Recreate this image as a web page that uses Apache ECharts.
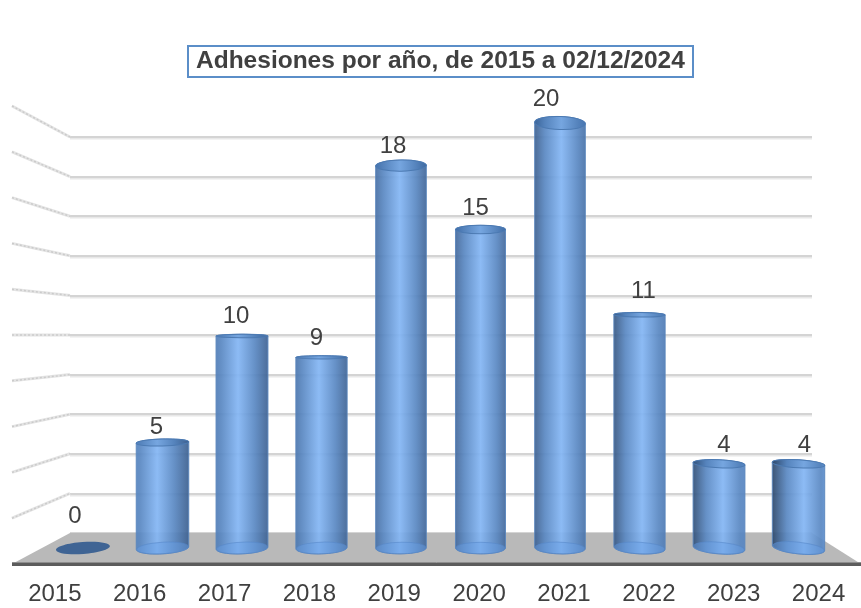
<!DOCTYPE html>
<html>
<head>
<meta charset="utf-8">
<style>html,body{margin:0;padding:0;background:#fff}#c{width:861px;height:608px}</style>
<script src="https://cdn.jsdelivr.net/npm/echarts@6/dist/echarts.min.js"></script>
</head>
<body>
<div id="c"></div>
<script>
const categories = ['2015','2016','2017','2018','2019','2020','2021','2022','2023','2024'];
const values = [0,5,10,9,18,15,20,11,4,4];
const wallLevels = [0,2,4,6,8,10,12,14,16,18,20];
const titleText = 'Adhesiones por año, de 2015 a 02/12/2024';

// layout only
const labelNudge = [[-8,-33],[-6,-15],[-6,-20],[-5,-19],[-8,-19],[-5,-21],[-14,-24],[4,-23],[5,-18],[6,-18]];
const textColor = '#404040';
const fontFamily = '"Liberation Sans", Arial, sans-serif';
const BACK = {left:70, width:742, top:137, height:396};
const FRONT = {left:12, width:58, top:106, height:458};
const BARS = {left:43.25, width:795, top:123, height:426};
const EYE = 350;

const chart = echarts.init(document.getElementById('c'), null, {renderer:'canvas'});

function hex(c){return [1,3,5].map(i=>parseInt(c.substr(i,2),16));}
function mix(a,b,t){const A=hex(a),B=hex(b);return 'rgb('+A.map((v,i)=>Math.round(v+(B[i]-v)*t)).join(',')+')';}
function barGradient(t, hi, mid, edge){
  const left = t>0 ? mix(edge,'#2c4668',t) : mix(edge,'#5584bf',-t);
  const right = t>0 ? mix(edge,'#5d8fcf',t) : mix(edge,'#3c5f8e',-t);
  const p = 0.5+0.1*t;
  return new echarts.graphic.LinearGradient(0,0,1,0,[
    {offset:0,color:left},{offset:Math.max(p-0.32,0.05),color:mid},
    {offset:p,color:hi},{offset:Math.min(p+0.32,0.95),color:mid},{offset:1,color:right}]);
}
function ry(y){return 1.5+0.022*Math.abs(y-EYE);}
function tilt(cx,y){return (cx-480)*(cx<480?0.006:0.011)*(Math.abs(y-EYE)/113)*Math.PI/180;}
function pt(c,w,h,a,t){
  const x=w*Math.cos(t), y=h*Math.sin(t);
  return [c[0]+x*Math.cos(a)-y*Math.sin(a), c[1]+x*Math.sin(a)+y*Math.cos(a)];
}
function ellipse(c,w,h,a,style,z2){
  return {type:'ellipse',x:c[0],y:c[1],rotation:-a,shape:{cx:0,cy:0,rx:w,ry:h},style:style,z2:z2};
}

function renderBar(params, api){
  const i = api.value(0), v = api.value(1);
  const top = api.coord([i,v]), axisBase = api.coord([i,0]);
  const base = [axisBase[0], axisBase[1]-1];
  const cx = base[0], n = 24;
  const t = (cx-480)/320;
  const w = 25+Math.abs(t)*1.3;
  const at = tilt(cx,top[1]), ab = tilt(cx,base[1]);
  const hb = ry(base[1]), ht = ry(top[1]);
  const nudge = labelNudge[params.dataIndex];
  const label = {type:'text',x:cx+nudge[0],y:top[1]+nudge[1],z2:10,
    style:{text:String(v),fill:textColor,font:'24px '+fontFamily,textAlign:'center',textVerticalAlign:'middle'}};
  if(v===0){
    return {type:'group',children:[
      ellipse([cx,base[1]],27,6,ab,{fill:'#3f6494'},2),label]};
  }
  const pts=[];
  for(let k=0;k<=n;k++) pts.push(pt(base,w,hb,ab,Math.PI-Math.PI*k/n));
  for(let k=0;k<=n;k++) pts.push(pt(top,w,ht,at,-Math.PI*k/n));
  return {type:'group',children:[
    {type:'polygon',shape:{points:pts},z2:3,
      style:{fill:barGradient(t,'#84b6f4','#5a88c2','#44689a'),stroke:'#5a86bd',lineWidth:1,opacity:0.93}},
    ellipse(base,w-0.5,hb,ab,{fill:'rgba(105,160,230,0.45)',stroke:'rgba(85,135,200,0.55)',lineWidth:1},4),
    ellipse(top,w,ht,at,{fill:barGradient(t,'#76a6e0','#5583bc','#3f6ca6'),stroke:'#4c7ab2',lineWidth:1},5),
    label]};
}

function backY(v){return chart.convertToPixel({gridIndex:0},[0,v])[1];}

function renderWall(params, api){
  const v = api.value(0);
  const f = api.coord([0,v]), by = backY(v);
  const pts=[[f[0],f[1]],[BACK.left,by]];
  if(v===0){
    return {type:'group',children:[
      {type:'polygon',shape:{points:[[BACK.left,by],[BACK.left+BACK.width,by],[861,f[1]],[f[0],f[1]]]},style:{fill:'#b9b9b9'},z2:1},
      {type:'line',shape:{x1:f[0],y1:f[1]-1.5,x2:861,y2:f[1]-1.5},style:{stroke:'#8e8e8e',lineWidth:1},z2:2},
      {type:'line',shape:{x1:f[0],y1:f[1]+0.5,x2:861,y2:f[1]+0.5},style:{stroke:'#5c5c5c',lineWidth:3},z2:2}
    ]};
  }
  return {type:'group',children:[
    {type:'polyline',shape:{points:pts},style:{stroke:'#e4e4e4',lineWidth:3,fill:null}},
    {type:'polyline',shape:{points:pts},style:{stroke:'#cbcbcb',lineWidth:1.5,lineDash:[2,2],fill:null},z2:2}
  ]};
}

chart.setOption({
  backgroundColor:'#fff',
  animation:false,
  title:{text:titleText,left:188,top:46,padding:[3,8,3,8],borderColor:'#5b8ec8',borderWidth:2,
    textStyle:{fontFamily:fontFamily,fontSize:24.5,fontWeight:'bold',color:textColor}},
  grid:[
    Object.assign({},BACK),
    Object.assign({},FRONT),
    Object.assign({},BARS),
    {left:12.4,width:853,top:520,height:46}
  ],
  xAxis:[
    {gridIndex:0,type:'category',data:categories,show:false},
    {gridIndex:1,type:'value',min:0,max:1,show:false},
    {gridIndex:2,type:'category',data:categories,show:false},
    {gridIndex:3,type:'category',data:categories,axisLine:{show:false},axisTick:{show:false},
      axisLabel:{interval:0,margin:16,fontFamily:fontFamily,fontSize:24,color:textColor}}
  ],
  yAxis:[
    {gridIndex:0,type:'value',min:0,max:20,interval:2,axisLabel:{show:false},axisLine:{show:false},axisTick:{show:false},
      splitLine:{show:true,lineStyle:{color:'#d4d4d4',width:2,shadowColor:'#e8e8e8',shadowOffsetY:1.5,shadowBlur:0}}},
    {gridIndex:1,type:'value',min:0,max:20,show:false},
    {gridIndex:2,type:'value',min:0,max:20,show:false},
    {gridIndex:3,type:'value',show:false}
  ],
  series:[
    {type:'custom',xAxisIndex:1,yAxisIndex:1,clip:false,z:2,silent:true,
      encode:{x:-1,y:0},data:wallLevels.map(v=>[v]),renderItem:renderWall},
    {type:'custom',xAxisIndex:2,yAxisIndex:2,clip:false,z:5,silent:true,
      encode:{x:0,y:1},data:values.map((v,i)=>[i,v]),renderItem:renderBar}
  ]
});
</script>
</body>
</html>
